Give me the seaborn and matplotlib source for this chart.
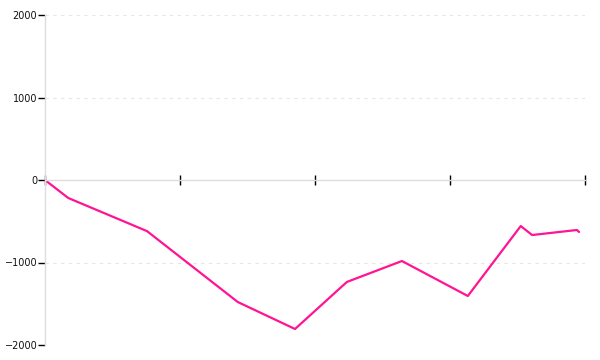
import matplotlib
matplotlib.use("Agg")
import matplotlib.pyplot as plt
import seaborn as sns
import pandas as pd

x_values = [0, 4.3, 18.9, 35.7, 46.3, 55.9, 66.1, 78.3, 88.1, 90.2, 98.5, 98.9]
y_values = [0, -218, -620, -1479, -1806, -1236, -982, -1406, -558, -667, -606, -630]
y_ticks = [-2000, -1000, 0, 1000, 2000]
y_tick_labels = ["\u22122000", "\u22121000", "0", "1000", "2000"]
x_ticks = [0, 25, 50, 75, 100]

df = pd.DataFrame({"x": x_values, "y": y_values})

sns.set_style("white")
plt.rcParams['font.family'] = ['DejaVu Sans']

fig = plt.figure(figsize=(6, 3.6), dpi=100)
ax = fig.add_axes([45/600, 1 - 345/360, 540/600, 330/360])

sns.lineplot(data=df, x="x", y="y", ax=ax, color="#ff1493", linewidth=1.6, sort=False)

ax.set_xlim(0, 100)
ax.set_ylim(-2000, 2000)
ax.set_yticks(y_ticks)
ax.set_yticklabels(y_tick_labels, fontsize=7, color="#111111")
ax.set_xticks(x_ticks)
ax.set_xticklabels([])
ax.set_xlabel("")
ax.set_ylabel("")

for v in y_ticks:
    if v != 0:
        ax.axhline(v, color="#e6e6e6", linewidth=0.8, linestyle=(0, (3, 4)), zorder=0)

for s in ["top", "right"]:
    ax.spines[s].set_visible(False)
ax.spines["left"].set_color("#dddddd")
ax.spines["left"].set_linewidth(1)
ax.spines["bottom"].set_position(("data", 0))
ax.spines["bottom"].set_color("#dddddd")
ax.spines["bottom"].set_linewidth(1)

ax.tick_params(axis="y", direction="out", length=5, width=1, color="black", pad=0.5, left=True)
ax.tick_params(axis="x", direction="inout", length=6.5, width=1, color="black", bottom=True)

fig.savefig("out.png", dpi=100)
